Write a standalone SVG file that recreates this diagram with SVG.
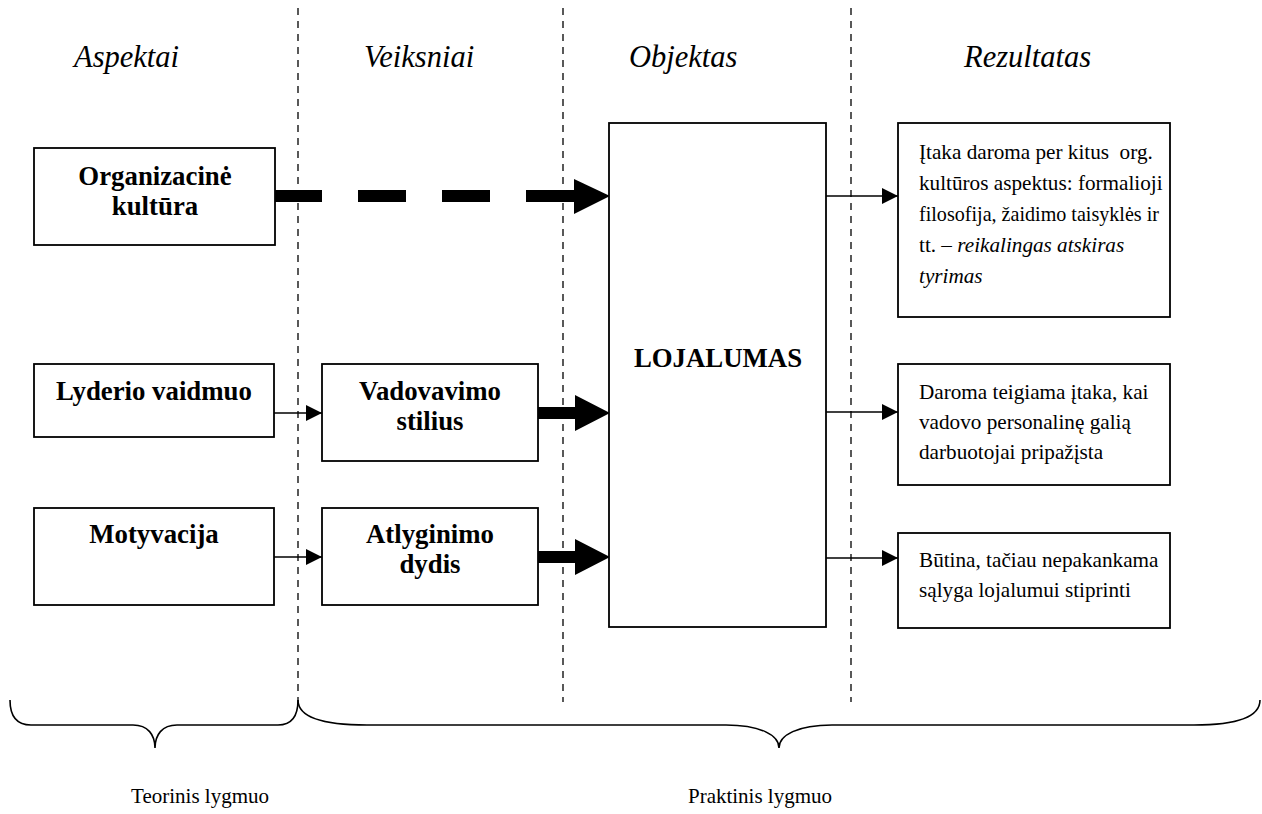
<svg xmlns="http://www.w3.org/2000/svg" width="1262" height="814" viewBox="0 0 1262 814">
  <style>
    .box { fill: #fff; stroke: #000; stroke-width: 1.8; }
    .hdr { font-family: "Liberation Serif", "Times New Roman", serif; font-style: italic; font-size: 30.5px; fill: #000; }
    .lbl { font-family: "Liberation Serif", "Times New Roman", serif; font-weight: bold; font-size: 26.8px; fill: #000; text-anchor: middle; }
    .txt { font-family: "Liberation Serif", "Times New Roman", serif; font-size: 21.2px; fill: #000; }
    .lvl { font-family: "Liberation Serif", "Times New Roman", serif; font-size: 21px; fill: #000; text-anchor: middle; }
    .sep { stroke: #000; stroke-width: 1.3; stroke-dasharray: 7 6; fill: none; }
    .thin { stroke: #000; stroke-width: 1.4; fill: none; }
    .brace { stroke: #000; stroke-width: 1.6; fill: none; }
  </style>
  <defs>
    <marker id="tip" markerUnits="userSpaceOnUse" markerWidth="16" markerHeight="16" refX="16" refY="8" orient="auto">
      <path d="M0,0 L16,8 L0,16 Z" fill="#000"/>
    </marker>
  </defs>

  <rect width="1262" height="814" fill="#fff"/>

  <!-- column separators -->
  <g id="separators">
    <line class="sep" x1="298" y1="8" x2="298" y2="700"/>
    <line class="sep" x1="563" y1="8" x2="563" y2="702"/>
    <line class="sep" x1="851" y1="8" x2="851" y2="702"/>
  </g>

  <!-- column headings -->
  <g id="headings">
    <text class="hdr" x="74" y="67">Aspektai</text>
    <text class="hdr" x="364" y="67">Veiksniai</text>
    <text class="hdr" x="629" y="67">Objektas</text>
    <text class="hdr" x="964" y="67">Rezultatas</text>
  </g>

  <!-- connectors -->
  <g id="connectors">
    <!-- thick dashed arrow: organisational culture -> loyalty -->
    <g id="conn-org-loj">
      <rect x="275" y="190" width="47" height="12"/>
      <rect x="358" y="190" width="48" height="12"/>
      <rect x="442" y="190" width="48" height="12"/>
      <rect x="526" y="190" width="49" height="12"/>
      <path d="M574,179 L610,196 L574,214 Z"/>
    </g>
    <!-- thick arrows: factors -> loyalty -->
    <path d="M538,407 H575 V395 L610,413 L575,431 V419 H538 Z"/>
    <path d="M538,551 H575 V539 L610,557 L575,575 V563 H538 Z"/>
    <!-- thin arrows: aspects -> factors -->
    <line class="thin" x1="274" y1="413" x2="322" y2="413" marker-end="url(#tip)"/>
    <line class="thin" x1="274" y1="557" x2="322" y2="557" marker-end="url(#tip)"/>
    <!-- thin arrows: loyalty -> results -->
    <line class="thin" x1="826" y1="196" x2="898" y2="196" marker-end="url(#tip)"/>
    <line class="thin" x1="826" y1="412" x2="898" y2="412" marker-end="url(#tip)"/>
    <line class="thin" x1="826" y1="558" x2="898" y2="558" marker-end="url(#tip)"/>
  </g>

  <!-- aspects -->
  <g id="node-org">
    <rect class="box" x="34" y="148" width="241" height="97"/>
    <text class="lbl" x="155" y="185">Organizacinė</text>
    <text class="lbl" x="155" y="215">kultūra</text>
  </g>
  <g id="node-lyderis">
    <rect class="box" x="34" y="364" width="240" height="73"/>
    <text class="lbl" x="154" y="400">Lyderio vaidmuo</text>
  </g>
  <g id="node-motyvacija">
    <rect class="box" x="34" y="508" width="240" height="97"/>
    <text class="lbl" x="154" y="543">Motyvacija</text>
  </g>

  <!-- factors -->
  <g id="node-vadovavimas">
    <rect class="box" x="322" y="364" width="216" height="97"/>
    <text class="lbl" x="430" y="400">Vadovavimo</text>
    <text class="lbl" x="430" y="430">stilius</text>
  </g>
  <g id="node-atlyginimas">
    <rect class="box" x="322" y="508" width="216" height="97"/>
    <text class="lbl" x="430" y="543">Atlyginimo</text>
    <text class="lbl" x="430" y="573">dydis</text>
  </g>

  <!-- object -->
  <g id="node-lojalumas">
    <rect class="box" x="609" y="123" width="217" height="504"/>
    <text class="lbl" x="718" y="367">LOJALUMAS</text>
  </g>

  <!-- results -->
  <g id="node-rez1">
    <rect class="box" x="898" y="123" width="272" height="194"/>
    <text class="txt" x="919" y="159" xml:space="preserve">Įtaka daroma per kitus  org.</text>
    <text class="txt" x="919" y="190">kultūros aspektus: formalioji</text>
    <text class="txt" x="919" y="221" textLength="240" lengthAdjust="spacingAndGlyphs">filosofija, žaidimo taisyklės ir</text>
    <text class="txt" x="919" y="252">tt. – <tspan font-style="italic">reikalingas atskiras</tspan></text>
    <text class="txt" x="919" y="283" font-style="italic">tyrimas</text>
  </g>
  <g id="node-rez2">
    <rect class="box" x="898" y="364" width="272" height="121"/>
    <text class="txt" x="919" y="399">Daroma teigiama įtaka, kai</text>
    <text class="txt" x="919" y="429">vadovo personalinę galią</text>
    <text class="txt" x="919" y="459">darbuotojai pripažįsta</text>
  </g>
  <g id="node-rez3">
    <rect class="box" x="898" y="533" width="272" height="95"/>
    <text class="txt" x="919" y="567">Būtina, tačiau nepakankama</text>
    <text class="txt" x="919" y="597">sąlyga lojalumui stiprinti</text>
  </g>

  <!-- level braces -->
  <g id="levels">
    <path class="brace" d="M10,700 C10,718 18,725 31,725 L133,725 C148,725 155,735 155,748 C155,735 162,725 177,725 L278,725 C290,725 298,718 298,700"/>
    <path class="brace" d="M298,700 C298,718 325,725 367,725 L726,725 C760,725 779,735 779,748 C779,735 798,725 832,725 L1194,725 C1235,725 1260,718 1260,700"/>
    <text class="lvl" x="200" y="803">Teorinis lygmuo</text>
    <text class="lvl" x="760" y="803">Praktinis lygmuo</text>
  </g>
</svg>
